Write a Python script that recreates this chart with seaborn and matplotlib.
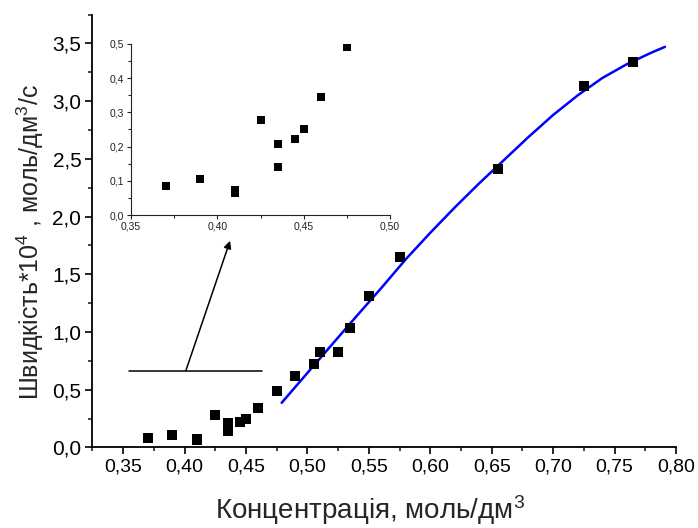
import matplotlib
matplotlib.use("Agg")
import matplotlib.pyplot as plt
from matplotlib.ticker import MultipleLocator, FuncFormatter
import numpy as np
import pandas as pd
import seaborn as sns

# Experimental points: concentration (mol/dm3) and rate *10^4
conc = [0.37, 0.39, 0.41, 0.41, 0.425, 0.435, 0.435, 0.445, 0.45, 0.46,
        0.475, 0.49, 0.505, 0.51, 0.525, 0.535, 0.55, 0.575, 0.655, 0.725, 0.765]
rate = [0.085, 0.105, 0.065, 0.072, 0.278, 0.208, 0.14, 0.222, 0.25, 0.345,
        0.49, 0.622, 0.723, 0.83, 0.83, 1.037, 1.314, 1.647, 2.411, 3.13, 3.338]

# Fitted curve
fit_conc = [0.479, 0.50, 0.52, 0.54, 0.56, 0.58, 0.60, 0.62, 0.64, 0.66,
            0.68, 0.70, 0.72, 0.74, 0.76, 0.78, 0.791]
fit_rate = [0.387, 0.646, 0.892, 1.138, 1.38, 1.63, 1.86, 2.08, 2.29, 2.49,
            2.69, 2.88, 3.05, 3.20, 3.32, 3.42, 3.47]

# Pointer from the low-concentration region to the inset
bracket_x = [0.355, 0.463]
bracket_y = 0.665
arrow_start = (0.401, 0.665)
arrow_end = (0.437, 1.79)

x_ticks_main = [0.35, 0.40, 0.45, 0.50, 0.55, 0.60, 0.65, 0.70, 0.75, 0.80]
y_ticks_main = [0.0, 0.5, 1.0, 1.5, 2.0, 2.5, 3.0, 3.5]
x_ticks_inset = [0.35, 0.40, 0.45, 0.50]
y_ticks_inset = [0.0, 0.1, 0.2, 0.3, 0.4, 0.5]

sns.set_theme(style="ticks")
plt.rcParams["font.family"] = ["Liberation Sans", "DejaVu Sans"]
plt.rcParams["mathtext.fontset"] = "custom"
plt.rcParams["mathtext.rm"] = "Liberation Sans"
plt.rcParams["mathtext.it"] = "Liberation Sans"
plt.rcParams["mathtext.default"] = "regular"

df = pd.DataFrame({"c": conc, "v": rate})
fit = pd.DataFrame({"c": fit_conc, "v": fit_rate})
low = df[df["c"] <= 0.48]


def comma(fmt):
    return FuncFormatter(lambda v, p: (fmt % v).replace(".", ","))


fig = plt.figure(figsize=(6.98, 5.28), dpi=100)
ax = fig.add_axes([0.1325, 0.1525, 0.836, 0.820])

sns.lineplot(data=fit, x="c", y="v", ax=ax, color="#0000ff", lw=1.8,
             sort=False, estimator=None, zorder=3)
sns.scatterplot(data=df, x="c", y="v", ax=ax, marker="s", s=58,
                color="black", edgecolor="black", linewidth=0, zorder=4)

ax.set_xlim(0.325, 0.80)
ax.set_ylim(0, 3.75)
ax.set_xticks(x_ticks_main)
ax.set_yticks(y_ticks_main)
ax.xaxis.set_minor_locator(MultipleLocator(0.025))
ax.yaxis.set_minor_locator(MultipleLocator(0.25))
ax.xaxis.set_major_formatter(comma("%.2f"))
ax.yaxis.set_major_formatter(comma("%.1f"))
ax.tick_params(which="major", direction="out", length=5, width=1.2,
               colors="black", pad=3)
ax.tick_params(axis="x", labelsize=14)
ax.tick_params(axis="y", labelsize=15)
ax.tick_params(which="minor", direction="out", length=3, width=1.2)
for s in ("top", "right"):
    ax.spines[s].set_visible(False)
for s in ("left", "bottom"):
    ax.spines[s].set_linewidth(1.3)
    ax.spines[s].set_color("black")

ax.set_xlabel("Концентрація, моль/дм$^3$", fontsize=20)
ax.set_ylabel("Швидкість*10$^4$ , моль/дм$^3$/с", fontsize=18)
ax.xaxis.set_label_coords(0.476, -0.105)
ax.yaxis.set_label_coords(-0.08, 0.475)

ax.plot(bracket_x, [bracket_y, bracket_y], color="black", lw=1.1)
ax.annotate("", xy=arrow_end, xytext=arrow_start,
            arrowprops=dict(arrowstyle="-|>", color="black", lw=1.1,
                            mutation_scale=11, shrinkA=0, shrinkB=0))

# Inset: low-concentration region
ins = fig.add_axes([0.1877, 0.5928, 0.3713, 0.3239])
sns.scatterplot(data=low, x="c", y="v", ax=ins, marker="s", s=26,
                color="black", edgecolor="black", linewidth=0)
ins.set_xlim(0.35, 0.50)
ins.set_ylim(0, 0.5)
ins.set_xticks(x_ticks_inset)
ins.set_yticks(y_ticks_inset)
ins.xaxis.set_minor_locator(MultipleLocator(0.025))
ins.yaxis.set_minor_locator(MultipleLocator(0.05))
ins.xaxis.set_major_formatter(comma("%.2f"))
ins.yaxis.set_major_formatter(comma("%.1f"))
ins.tick_params(which="major", direction="out", length=3, width=0.8,
                labelsize=7.5, colors="#222222", pad=2)
ins.tick_params(which="minor", direction="out", length=2, width=0.8)
for s in ("top", "right"):
    ins.spines[s].set_visible(False)
for s in ("left", "bottom"):
    ins.spines[s].set_linewidth(0.8)
    ins.spines[s].set_color("#222222")
ins.set_xlabel("")
ins.set_ylabel("")
ins.patch.set_alpha(0)

fig.savefig("out.png", dpi=100, facecolor="white")
